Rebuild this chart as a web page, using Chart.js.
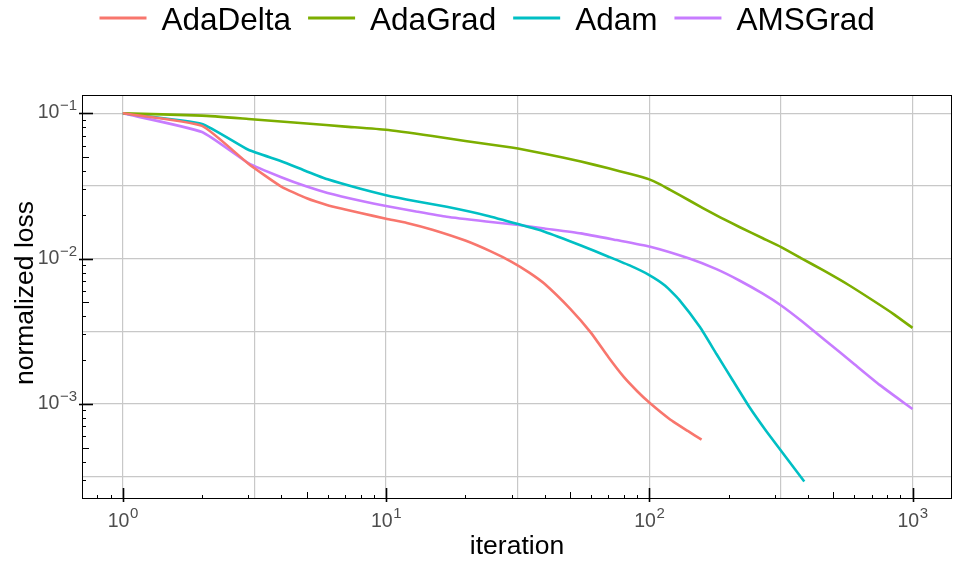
<!DOCTYPE html>
<html>
<head>
<meta charset="utf-8">
<script src="https://cdn.jsdelivr.net/npm/chart.js@4.4.1/dist/chart.umd.min.js"></script>
<style>
  html, body { margin: 0; padding: 0; background: #fff; }
  #wrap { width: 953px; height: 561px; }
</style>
</head>
<body>
<div id="wrap"><canvas id="chart" width="953" height="561"></canvas></div>
<script>
// series names / colours (ggplot default hues)
const seriesNames = ['AdaDelta', 'AdaGrad', 'Adam', 'AMSGrad'];
const seriesColors = ['#F8766D', '#7CAE00', '#00BFC4', '#C77CFF'];

// values
const adaDeltaIter = [1, 2, 3, 4, 5, 6, 7, 8, 10, 12, 15, 20, 25, 30, 35, 40, 50, 60, 70, 80, 90, 100, 120, 140, 158];
const adaDeltaLoss = [0.1, 0.082, 0.045, 0.0313, 0.026, 0.0233, 0.0218, 0.0206, 0.0188, 0.0176, 0.0158, 0.0133, 0.0112, 0.0095, 0.008, 0.0067, 0.00452, 0.00309, 0.00209, 0.00153, 0.00122, 0.00102, 0.00078, 0.00065, 0.000567];

const adaGradIter = [1, 2, 3, 5, 7, 10, 15, 20, 30, 40, 55, 70, 85, 100, 110, 120, 142, 180, 220, 270, 317, 380, 459, 570, 708, 850, 1000];
const adaGradLoss = [0.1, 0.0964, 0.0914, 0.0851, 0.081, 0.077, 0.0697, 0.0645, 0.0581, 0.0527, 0.0466, 0.0418, 0.0382, 0.0351, 0.0324, 0.0297, 0.0251, 0.0198, 0.0165, 0.0138, 0.012, 0.01, 0.00828, 0.0066, 0.00514, 0.00413, 0.00333];

const adamIter = [1, 2, 3, 4, 5, 6, 8, 10, 13, 17, 24, 32, 40, 55, 70, 85, 100, 115, 130, 156, 180, 208, 240, 278, 330, 388];
const adamLoss = [0.1, 0.0845, 0.0561, 0.0468, 0.0398, 0.0351, 0.0302, 0.0273, 0.0248, 0.0227, 0.0198, 0.0172, 0.0153, 0.0123, 0.0103, 0.0089, 0.0077, 0.0065, 0.0052, 0.00336, 0.0022, 0.00144, 0.00095, 0.00065, 0.00043, 0.000292];

const amsGradIter = [1, 2, 3, 4, 5, 6, 8, 10, 13, 17, 24, 32, 40, 55, 75, 100, 142, 180, 220, 270, 317, 380, 468, 600, 750, 880, 1000];
const amsGradLoss = [0.1, 0.0743, 0.0454, 0.0363, 0.0313, 0.0283, 0.025, 0.023, 0.0211, 0.0194, 0.018, 0.017, 0.0161, 0.0149, 0.0134, 0.0121, 0.01, 0.00845, 0.00706, 0.00573, 0.00475, 0.0037, 0.00272, 0.00188, 0.00135, 0.00109, 0.00092];

// axes
const xRange = [0.7079, 1412.5];
const yRange = [0.000221, 0.1337];
const xLabelValues = [1, 10, 100, 1000];
const xLabelExp = ['0', '1', '2', '3'];
const yLabelValues = [0.1, 0.01, 0.001];
const yLabelExp = ['\u22121', '\u22122', '\u22123'];
const xGridLines = [1, 3.1623, 10, 31.623, 100, 316.23, 1000];
const yGridLines = [0.1, 0.031623, 0.01, 0.0031623, 0.001, 0.00031623];

const FONT = '"Liberation Sans", Helvetica, Arial, sans-serif';

function toPoints(iter, loss) {
    return iter.map((x, i) => ({ x: x, y: loss[i] }));
}

const allIter = [adaDeltaIter, adaGradIter, adamIter, amsGradIter];
const allLoss = [adaDeltaLoss, adaGradLoss, adamLoss, amsGradLoss];

const datasets = seriesNames.map((name, i) => ({
    label: name,
    data: toPoints(allIter[i], allLoss[i]),
    borderColor: seriesColors[i],
    backgroundColor: seriesColors[i],
    borderWidth: 2.6,
    borderJoinStyle: 'round',
    pointRadius: 0,
    tension: 0.15,
    fill: false
}));

// tick marks: 1..9 inside every decade
function minorValues(lo, hi) {
    const out = [];
    for (let d = 1e-5; d <= 1e4; d *= 10) {
        for (let m = 1; m <= 9; m++) {
            const v = d * m;
            if (v >= lo && v <= hi) out.push({ v: v, m: m });
        }
    }
    return out;
}

const framePlugin = {
    id: 'frame',
    afterDraw(chart) {
        const ctx = chart.ctx;
        const a = chart.chartArea;
        const xs = chart.scales.x, ys = chart.scales.y;
        ctx.save();

        // frame
        ctx.strokeStyle = '#000';
        ctx.lineWidth = 1;
        ctx.strokeRect(a.left + 0.5, a.top + 0.5, a.right - a.left - 1, a.bottom - a.top - 1);

        // inward ticks
        minorValues(xRange[0], xRange[1]).forEach(t => {
            const px = Math.round(xs.getPixelForValue(t.v)) + 0.5;
            const len = t.m === 1 ? 11 : (t.m === 5 ? 7 : 4);
            ctx.lineWidth = t.m === 1 ? 1.6 : 1;
            ctx.beginPath();
            ctx.moveTo(px, a.bottom + (t.m === 1 ? 3 : 0));
            ctx.lineTo(px, a.bottom - len);
            ctx.stroke();
        });
        minorValues(yRange[0], yRange[1]).forEach(t => {
            const py = Math.round(ys.getPixelForValue(t.v)) + 0.5;
            const len = t.m === 1 ? 11 : (t.m === 5 ? 7 : 4);
            ctx.lineWidth = t.m === 1 ? 1.6 : 1;
            ctx.beginPath();
            ctx.moveTo(a.left - (t.m === 1 ? 3 : 0), py);
            ctx.lineTo(a.left + len, py);
            ctx.stroke();
        });

        // tick labels 10^n
        ctx.fillStyle = '#4d4d4d';
        ctx.textBaseline = 'alphabetic';
        const base = '19.5px ' + FONT, sup = '15px ' + FONT;
        xLabelValues.forEach((v, i) => {
            ctx.font = base;
            const w1 = ctx.measureText('10').width;
            ctx.font = sup;
            const w2 = ctx.measureText(xLabelExp[i]).width;
            const px = xs.getPixelForValue(v);
            const x0 = px - (w1 + w2) / 2;
            ctx.font = base;
            ctx.textAlign = 'left';
            ctx.fillText('10', x0, 527);
            ctx.font = sup;
            ctx.fillText(xLabelExp[i], x0 + w1 + 0.5, 518);
        });
        yLabelValues.forEach((v, i) => {
            ctx.font = sup;
            const w2 = ctx.measureText(yLabelExp[i]).width;
            const py = ys.getPixelForValue(v);
            const right = a.left - 5;
            ctx.textAlign = 'left';
            ctx.fillText(yLabelExp[i], right - w2, py - 3);
            ctx.font = base;
            ctx.textAlign = 'right';
            ctx.fillText('10', right - w2 - 0.5, py + 5);
        });

        // axis titles
        ctx.fillStyle = '#000';
        ctx.font = '26.5px ' + FONT;
        ctx.textAlign = 'center';
        ctx.fillText('iteration', (a.left + a.right) / 2, 554);
        ctx.save();
        ctx.translate(33, 293);
        ctx.rotate(-Math.PI / 2);
        ctx.fillText('normalized loss', 0, 0);
        ctx.restore();

        // legend
        ctx.font = '31.5px ' + FONT;
        ctx.textAlign = 'left';
        const keyLen = 47, keyGap = 15, itemGap = 17, keyY = 18;
        let x = 99.5;
        chart.data.datasets.forEach(ds => {
            ctx.strokeStyle = ds.borderColor;
            ctx.lineWidth = 3;
            ctx.beginPath();
            ctx.moveTo(x, keyY);
            ctx.lineTo(x + keyLen, keyY);
            ctx.stroke();
            x += keyLen + keyGap;
            ctx.fillText(ds.label, x, keyY + 11.5);
            x += ctx.measureText(ds.label).width + itemGap;
        });
        ctx.restore();
    }
};

function gridColor(values) {
    return c => {
        const v = c.tick && c.tick.value;
        return values.some(g => Math.abs(g - v) / g < 1e-6) ? '#c8c8c8' : 'rgba(0,0,0,0)';
    };
}

new Chart(document.getElementById('chart'), {
    type: 'line',
    data: { datasets: datasets },
    options: {
        responsive: false,
        animation: false,
        devicePixelRatio: 1,
        layout: { padding: { left: 0, right: 1, top: 95, bottom: 0 } },
        plugins: {
            legend: { display: false },
            tooltip: { enabled: false }
        },
        scales: {
            x: {
                type: 'logarithmic',
                min: xRange[0],
                max: xRange[1],
                afterBuildTicks: s => { s.ticks = xGridLines.map(v => ({ value: v })); },
                afterFit: s => { s.height = 62; },
                ticks: { display: false },
                grid: { color: gridColor(xGridLines), lineWidth: 1.2, drawTicks: false },
                border: { display: false }
            },
            y: {
                type: 'logarithmic',
                min: yRange[0],
                max: yRange[1],
                afterBuildTicks: s => { s.ticks = yGridLines.map(v => ({ value: v })); },
                afterFit: s => { s.width = 82; },
                ticks: { display: false },
                grid: { color: gridColor(yGridLines), lineWidth: 1.2, drawTicks: false },
                border: { display: false }
            }
        }
    },
    plugins: [framePlugin]
});
</script>
</body>
</html>
